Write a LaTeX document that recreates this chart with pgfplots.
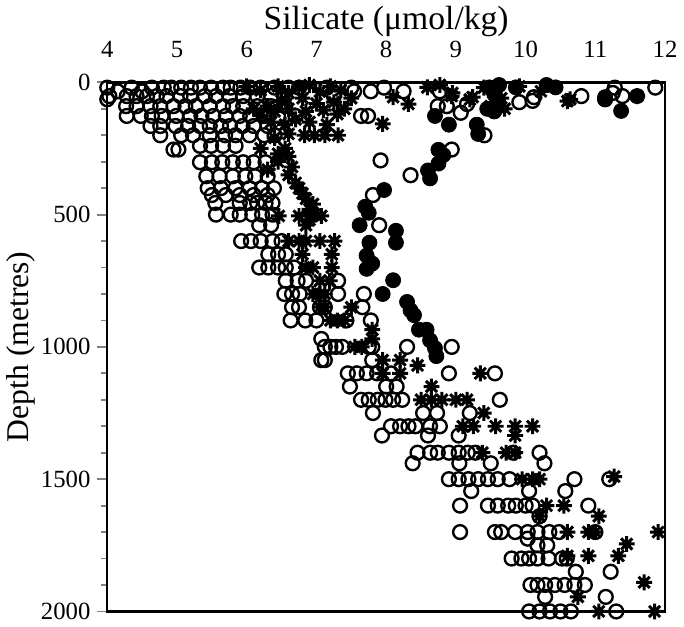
\documentclass[border=0pt]{standalone}
\usepackage{pgfplots}
\pgfplotsset{compat=1.18}
\usepackage{fontspec}
\setmainfont{Liberation Serif}

% eight-armed asterisk like the printed one
\pgfdeclareplotmark{ast8}{%
  \pgfpathmoveto{\pgfqpoint{-\pgfplotmarksize}{0pt}}\pgfpathlineto{\pgfqpoint{\pgfplotmarksize}{0pt}}%
  \pgfpathmoveto{\pgfqpoint{0pt}{-\pgfplotmarksize}}\pgfpathlineto{\pgfqpoint{0pt}{\pgfplotmarksize}}%
  \pgfpathmoveto{\pgfqpoint{-0.707\pgfplotmarksize}{-0.707\pgfplotmarksize}}\pgfpathlineto{\pgfqpoint{0.707\pgfplotmarksize}{0.707\pgfplotmarksize}}%
  \pgfpathmoveto{\pgfqpoint{-0.707\pgfplotmarksize}{0.707\pgfplotmarksize}}\pgfpathlineto{\pgfqpoint{0.707\pgfplotmarksize}{-0.707\pgfplotmarksize}}%
  \pgfusepathqstroke}

\begin{document}
\begin{tikzpicture}
\begin{axis}[
  scale only axis, width=282pt, height=267.5pt,
  xmin=4, xmax=12, ymin=0, ymax=2000, y dir=reverse,
  xtick={4,...,12}, ytick={0,500,...,2000}, minor y tick num=4,
  xticklabel pos=upper, xtick pos=upper, ytick pos=left,
  tick align=outside, major tick length=5pt, minor tick length=3pt,
  x tick style={draw=none}, y tick style={line width=0.9pt},
  axis line style={line width=1.2pt},
  xlabel={Silicate (μmol/kg)}, ylabel={Depth (metres)},
  xlabel style={font=\fontsize{17}{19}\selectfont, yshift=-5pt},
  ylabel style={font=\fontsize{16}{18}\selectfont},
  ylabel shift=-4pt,
  tick label style={font=\fontsize{12.5}{15}\selectfont},
  /pgf/number format/assume math mode=true,
  /pgf/number format/1000 sep={}, scaled ticks=false,
  x tick label style={yshift=4pt},
]
% open circles
\addplot[only marks, mark=o, mark size=3.5pt, mark options={fill=white, line width=1.2pt}] coordinates {
(4.0,20)(4.35,20)(4.64,20)(4.81,20)(4.92,20)(5.06,20)(5.2,20)(5.33,20)(5.49,20)(5.66,20)(5.77,20)(5.91,20)(6.05,20)(6.2,20)(6.4,20)(6.6,20)(6.75,20)(7.15,20)(7.5,20)(7.97,20)(11.28,20)(11.86,20)
(4.15,34)(4.5,34)(7.54,34)(7.78,34)(8.25,34)(8.77,34)(11.25,40)
(4.03,52)(4.28,52)(4.42,52)(4.57,52)(4.71,52)(4.85,52)(5.05,52)(5.19,52)(5.4,52)(5.56,52)(5.75,52)(5.95,52)(6.15,52)(6.35,52)(6.55,52)(7.25,52)(10.8,52)(11.39,52)(10.12,56)
(4.0,64)(11.14,64)(9.91,75)(10.1,70)(9.16,82)
(4.27,90)(4.42,90)(4.62,90)(4.76,90)(4.95,90)(5.12,90)(5.27,90)(5.47,90)(5.66,90)(5.8,90)(5.95,90)(6.15,90)(6.35,90)(6.55,90)(8.74,90)(8.87,90)
(9.07,115)
(4.28,127)(4.48,127)(4.64,127)(4.78,127)(4.99,127)(5.19,127)(5.35,127)(5.52,127)(5.7,127)(5.9,127)(6.05,127)(6.25,127)(6.45,127)(6.7,127)(7.64,127)(7.74,127)
(4.62,165)(4.76,165)(4.98,165)(5.16,165)(5.33,165)(5.47,165)(5.63,165)(5.76,165)(5.94,165)(6.1,165)(6.3,165)
(4.76,200)(5.06,200)(5.23,200)(5.47,200)(5.69,200)(5.84,200)(6.04,200)(6.25,200)(6.4,200)(9.41,200)
(5.33,240)(5.49,240)(5.66,240)(5.84,240)
(4.95,254)(5.02,254)(8.94,254)
(7.92,295)
(5.33,302)(5.5,302)(5.65,302)(5.8,302)(5.95,302)(6.1,302)(6.27,302)
(8.35,351)
(5.42,355)(5.61,355)(5.8,355)(5.98,355)(6.12,355)(6.3,355)
(5.44,400)(5.63,400)(5.84,400)(6.04,400)(6.22,400)(6.39,400)
(7.81,426)(5.5,426)(5.7,426)(5.9,426)(6.1,426)(6.3,426)
(5.55,456)(5.9,456)(6.05,456)(6.15,456)(6.27,456)(6.37,456)
(5.56,500)(5.77,500)(5.9,500)(6.08,500)(6.22,500)(6.37,500)
(6.18,540)(6.35,540)(7.9,540)
(5.92,600)(6.06,600)(6.2,600)(6.37,600)(6.5,600)
(6.31,650)(6.45,650)(6.56,650)
(6.18,700)(6.31,700)(6.45,700)(6.56,700)(6.68,700)
(6.56,750)(6.73,750)(6.85,750)(7.31,750)
(6.54,800)(6.65,800)(6.76,800)(7.31,800)(7.68,800)
(6.65,850)(6.75,850)(7.05,850)(7.12,850)(7.66,850)
(6.63,900)(6.84,900)(7.0,900)(7.43,900)(7.78,900)
(7.07,970)
(7.12,1000)(7.2,1000)(7.28,1000)(7.37,1000)(7.75,1000)(7.8,1000)(8.3,1000)(8.94,1000)
(7.07,1050)(7.12,1050)(7.8,1050)
(7.45,1100)(7.58,1100)(7.72,1100)(7.87,1100)(8.07,1100)(8.9,1100)(9.56,1100)
(7.48,1150)(8.0,1150)(8.15,1150)
(7.64,1200)(7.75,1200)(7.88,1200)(7.99,1200)(8.1,1200)(8.23,1200)(9.63,1200)
(7.81,1250)(8.53,1250)(8.73,1250)(9.2,1250)
(8.07,1300)(8.2,1300)(8.32,1300)(8.42,1300)(8.63,1300)(8.77,1300)
(7.94,1335)(8.6,1335)(9.04,1335)
(8.45,1400)(8.63,1400)(8.74,1400)(8.9,1400)(9.04,1400)(9.17,1400)(9.28,1400)(9.82,1400)(10.2,1400)
(8.38,1440)(9.05,1440)(9.5,1440)(10.27,1440)
(8.9,1500)(9.04,1500)(9.18,1500)(9.32,1500)(9.46,1500)(9.6,1500)(9.77,1500)(10.7,1500)(11.2,1500)
(9.22,1545)(10.05,1545)(10.57,1545)
(9.06,1600)(9.46,1600)(9.6,1600)(9.75,1600)(9.86,1600)(10.0,1600)(10.1,1600)(10.9,1600)
(10.2,1640)
(9.06,1700)(9.56,1700)(9.65,1700)(9.85,1700)(10.03,1700)(10.17,1700)(10.34,1700)(10.48,1700)(11.0,1700)
(10.03,1725)(10.17,1750)(10.31,1750)
(9.8,1800)(9.94,1800)(10.05,1800)(10.17,1800)(10.33,1800)(10.52,1800)(10.59,1800)
(10.72,1850)(11.22,1850)
(10.07,1900)(10.17,1900)(10.28,1900)(10.42,1900)(10.56,1900)(10.7,1900)(10.85,1900)
(10.28,1945)(11.15,1945)
(10.05,2000)(10.2,2000)(10.35,2000)(10.5,2000)(10.65,2000)(11.3,2000)
};
% asterisks
\addplot[only marks, mark=ast8, mark size=4pt, line width=1.5pt] coordinates {
(6.0,15)(6.2,30)(6.45,15)(6.6,40)(6.75,20)(6.9,10)(7.05,35)(7.2,15)(7.35,30)(7.5,60)(7.25,75)(7.0,80)(6.8,60)(6.5,70)(6.3,90)(6.1,100)(6.4,110)(6.6,100)(6.85,110)(7.1,105)(7.3,120)(7.4,100)(6.7,140)(6.55,160)(6.35,150)(6.9,150)(7.15,160)(6.2,125)
(6.83,200)(6.97,200)(7.12,200)(7.31,200)(6.6,195)(6.4,210)
(6.55,250)(6.6,280)(6.45,300)(6.65,320)(6.6,350)(6.7,380)(6.3,330)(6.45,270)(6.2,250)
(6.75,400)(6.8,420)(6.85,440)(6.95,460)(6.9,480)(6.97,500)(6.9,520)(6.85,540)(6.75,505)(6.46,505)(7.07,505)
(6.6,600)(6.75,600)(6.85,600)(7.05,600)(7.26,600)
(6.8,650)(7.22,650)(6.85,700)(6.95,700)(7.22,700)
(7.05,750)(7.19,750)(6.95,800)(7.05,800)(7.12,800)
(7.05,850)(7.12,850)(7.5,850)(7.2,900)(7.3,900)(7.4,900)
(7.8,935)(7.8,970)(7.55,1000)(7.65,1000)
(7.95,1050)(8.2,1050)(8.45,1070)
(7.95,1100)(8.2,1100)(9.35,1100)
(8.65,1150)
(8.5,1200)(8.65,1200)(8.8,1200)(9.0,1200)(9.16,1200)
(9.4,1250)
(9.1,1300)(9.25,1300)(9.57,1300)(9.85,1300)(10.1,1300)
(9.85,1335)
(9.38,1400)(9.72,1400)(9.85,1400)
(9.95,1500)(10.1,1500)(10.2,1500)(11.27,1490)
(10.3,1600)(10.55,1600)
(10.2,1640)(11.05,1640)
(10.6,1700)(10.9,1700)(11.0,1700)(11.9,1700)
(11.45,1745)
(10.6,1790)(10.9,1790)(11.33,1790)
(11.7,1890)
(10.75,1945)
(11.05,2000)(11.85,2000)
(8.1,56)(8.32,82)(7.95,157)(8.59,19)(8.94,52)(9.24,56)(8.77,10)(9.4,20)(9.55,40)(9.65,60)(9.5,90)(9.7,100)(9.91,15)(10.22,34)(10.64,64)(11.6,52)(10.6,71)(8.95,40)(9.2,65)
};
% filled circles
\addplot[only marks, mark=*, mark size=3.8pt, mark options={fill=black, draw=black}] coordinates {
(9.48,19)(9.62,10)(9.86,19)(10.43,19)(10.3,10)(9.55,45)(9.6,70)(9.45,100)(9.55,110)(11.14,56)(11.37,108)(11.6,52)
(8.7,127)(8.9,160)(9.3,160)(9.32,195)(8.75,255)(8.82,275)(8.75,307)(8.6,333)(8.63,363)
(7.97,407)(7.7,470)(7.75,493)(7.62,540)(8.14,561)(8.14,606)(7.76,606)(7.72,655)(7.8,685)(7.72,705)(8.1,748)(7.95,800)(8.3,830)(8.35,862)(8.4,880)(8.47,935)(8.58,935)(8.63,975)(8.7,1005)(8.72,1035)
};
\end{axis}
\end{tikzpicture}
\end{document}
